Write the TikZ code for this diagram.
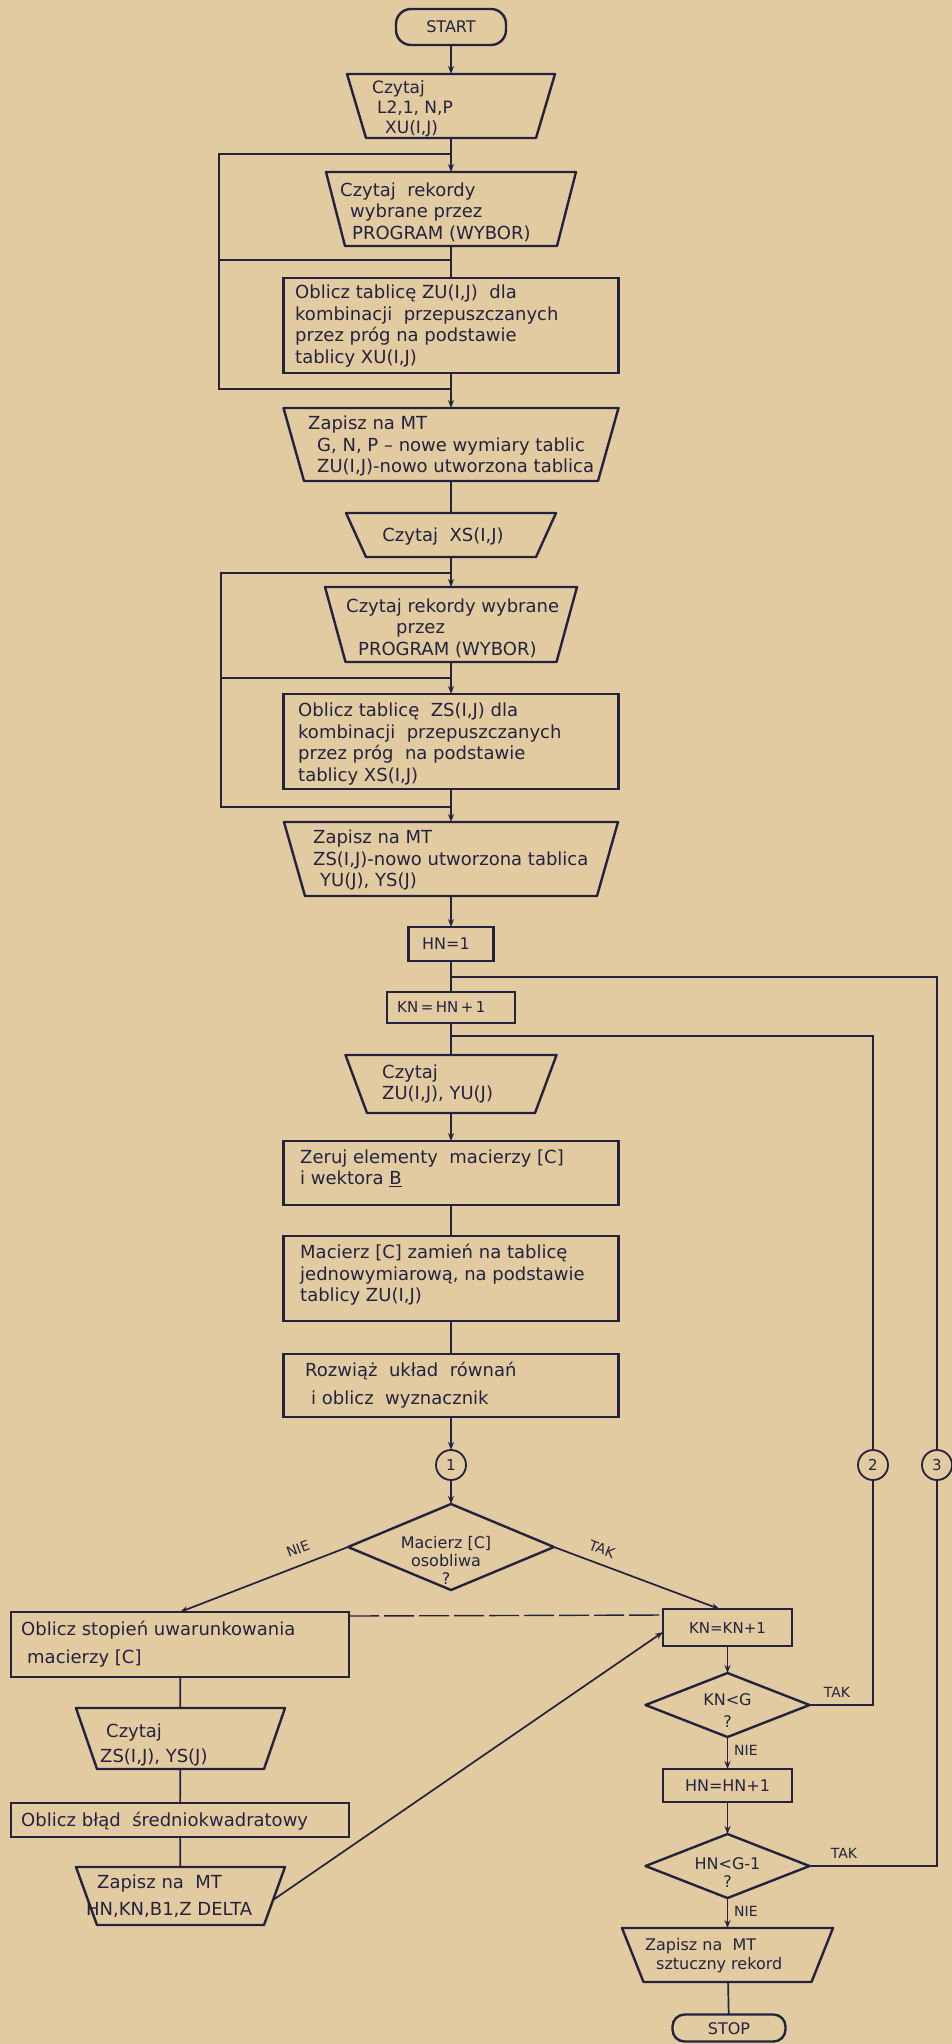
\documentclass[tikz,border=0pt]{standalone}
\usepackage{fontspec}
\setmainfont{DejaVu Sans}
\usetikzlibrary{arrows.meta,calc}
\definecolor{paper}{HTML}{E2CBA1}
\definecolor{ink}{HTML}{23233F}
\tikzset{
 anch/.style={rectangle,draw=none,inner sep=0pt,outer sep=0pt},
 shp/.style={draw=ink,line width=2.4pt,line join=round},
 rbox/.style={anch,draw=ink,line width=2.4pt},
 term/.style={anch,draw=ink,line width=2.4pt,rounded corners=15pt},
 conn/.style={draw=ink,line width=1.7pt},
 arr/.style={conn,-{Stealth[length=8pt,width=6pt]}},
 dsh/.style={draw=ink,line width=1.4pt,dash pattern=on 30pt off 5pt},
 txt/.style={inner sep=0pt,text=ink,align=left,font=\fontsize{18}{21.5}\selectfont},
 small/.style={inner sep=0pt,text=ink,align=center,font=\fontsize{16}{18}\selectfont},
 lbl/.style={inner sep=0pt,text=ink,font=\fontsize{14}{16}\selectfont},
 conc/.style={circle,draw=ink,line width=1.8pt,minimum size=30pt,inner sep=0pt,outer sep=0pt,text=ink,font=\fontsize{15}{15}\selectfont},
}
\newcommand{\trapz}[6]{%
  \node[anch,minimum width={2*(#5)},minimum height={(#4)-(#3)}] (#1) at (#2,{((#3)+(#4))/2}) {};
  \draw[shp] ({#2-#5},#3) -- ({#2+#5},#3) -- ({#2+#6},#4) -- ({#2-#6},#4) -- cycle;}
\newcommand{\diam}[5]{%
  \node[anch,minimum width={2*(#4)},minimum height={2*(#5)}] (#1) at (#2,#3) {};
  \draw[shp] (#1.north) -- (#1.east) -- (#1.south) -- (#1.west) -- cycle;}
\begin{document}
\begin{tikzpicture}[x=1pt,y=-1pt]
\fill[paper] (0,0) rectangle (952,2044);
\useasboundingbox (0,0) rectangle (952,2044);

% ---------- main column ----------
\node[term,minimum width=110,minimum height=36] (start) at (451,27) {};
\node[small] (startt) at (451,27) {START};

\trapz{t1}{451}{74}{138}{104}{85}
\node[txt,anchor=west,font=\fontsize{17}{20}\selectfont] (t1t) at (372,109) {Czytaj\\\hspace*{5pt}L2,1, N,P\\\hspace*{13pt}XU(I,J)};

\trapz{t2}{451}{172}{246}{125}{106}
\node[txt,anchor=west] (t2t) at (340,212) {Czytaj~ rekordy\\\hspace*{10pt}wybrane przez\\\hspace*{12pt}PROGRAM (WYBOR)};

\node[rbox,minimum width=335,minimum height=95] (b1) at (451,325.5) {};
\node[txt,anchor=west] (b1t) at (295,326) {Oblicz tablicę ZU(I,J)~ dla\\kombinacji~ przepuszczanych\\przez próg na podstawie\\tablicy XU(I,J)};

\trapz{t3}{451}{408}{481}{167.5}{147}
\node[txt,anchor=west] (t3t) at (308,446) {Zapisz na MT\\\hspace*{9pt}G, N, P -- nowe wymiary tablic\\\hspace*{9pt}ZU(I,J)-nowo utworzona tablica};

\trapz{t4}{451}{513}{557}{105}{85}
\node[txt] (t4t) at (443,537) {Czytaj~ XS(I,J)};

\trapz{t5}{451}{587}{662}{126}{105.5}
\node[txt,anchor=west] (t5t) at (346,628) {Czytaj rekordy wybrane\\\hspace*{50pt}przez\\\hspace*{12pt}PROGRAM (WYBOR)};

\node[rbox,minimum width=335,minimum height=95] (b2) at (451,741.5) {};
\node[txt,anchor=west] (b2t) at (298,744) {Oblicz tablicę~ ZS(I,J) dla\\kombinacji~ przepuszczanych\\przez próg~ na podstawie\\tablicy XS(I,J)};

\trapz{t6}{451}{822}{896}{167}{146}
\node[txt,anchor=west] (t6t) at (313,860) {Zapisz na MT\\ZS(I,J)-nowo utworzona tablica\\\hspace*{7pt}YU(J), YS(J)};

\node[rbox,minimum width=85,minimum height=34] (hn1) at (451,944) {};
\node[small,anchor=west] (hn1t) at (422,944) {HN=1};

\node[rbox,minimum width=128,minimum height=31] (kn1) at (451,1007.5) {};
\node[small,anchor=west,font=\fontsize{15}{18}\selectfont] (kn1t) at (397,1007.5) {KN\,=\,HN\,+\,1};

\trapz{t7}{451}{1055}{1113}{105.5}{84}
\node[txt,anchor=west] (t7t) at (382,1084) {Czytaj\\ZU(I,J), YU(J)};

\node[rbox,minimum width=335,minimum height=64] (b3) at (451,1173) {};
\node[txt,anchor=west] (b3t) at (300,1168) {Zeruj elementy~ macierzy [C]\\i wektora \underline{B}};

\node[rbox,minimum width=335,minimum height=85] (b4) at (451,1278.5) {};
\node[txt,anchor=west] (b4t) at (300,1275) {Macierz [C] zamień na tablicę\\jednowymiarową, na podstawie\\tablicy ZU(I,J)};

\node[rbox,minimum width=335,minimum height=63] (b5) at (451,1385.5) {};
\node[txt,anchor=west] (b5t) at (305,1385) {Rozwiąż~ układ~ równań\\[6pt]\hspace*{6pt}i oblicz~ wyznacznik};

\node[conc] (c1) at (451,1465) {1};
\diam{d1}{451}{1547}{103}{43}
\node[small] (d1t) at (446,1560) {Macierz [C]\\osobliwa\\?};

% ---------- left branch ----------
\node[rbox,minimum width=338,minimum height=65] (b6) at (180,1644.5) {};
\node[txt,anchor=west] (b6t) at (21,1644) {Oblicz stopień uwarunkowania\\[6pt]\hspace*{6pt}macierzy [C]};

\trapz{t9}{180.5}{1708}{1769}{104.5}{83.5}
\node[txt,anchor=west] (t9t) at (100,1745) {\hspace*{6pt}Czytaj\\[3.5pt]ZS(I,J), YS(J)};

\node[rbox,minimum width=338,minimum height=34] (b7) at (180,1820) {};
\node[txt,anchor=west] (b7t) at (21,1821) {Oblicz błąd~ średniokwadratowy};

\trapz{t10}{180.5}{1867}{1925}{104.5}{83.5}
\node[txt,anchor=west] (t10t) at (86,1896) {\hspace*{11pt}Zapisz na~ MT\\[5.5pt]HN,KN,B1,Z DELTA};
\coordinate (t10r) at (273,1900);

% ---------- right branch ----------
\node[rbox,minimum width=129,minimum height=37] (kn2) at (727.5,1627.5) {};
\node[small,font=\fontsize{15}{18}\selectfont] (kn2t) at (727.5,1628) {KN=KN+1};

\diam{d2}{727.5}{1705}{82}{32}
\node[small] (d2t) at (727.5,1711) {KN<G\\[4pt]?};

\node[rbox,minimum width=129,minimum height=33] (hn2) at (727.5,1785.5) {};
\node[small] (hn2t) at (727.5,1786) {HN=HN+1};

\diam{d3}{727.5}{1866}{82}{32}
\node[small] (d3t) at (727.5,1873) {HN<G-1\\?};

\trapz{t8}{727.5}{1928}{1982}{105.5}{84}
\node[txt,anchor=west,font=\fontsize{16}{19}\selectfont] (t8t) at (645,1956) {Zapisz na~ MT\\\hspace*{11pt}sztuczny rekord};

\node[term,minimum width=113,minimum height=27,rounded corners=12pt] (stop) at (729,2028) {};
\node[small] (stopt) at (729,2029) {STOP};

\node[conc] (c2) at (873,1465) {2};
\node[conc] (c3) at (937,1465) {3};

% ---------- junction coordinates ----------
\coordinate (J1) at (451,154);
\coordinate (J2) at (451,260);
\coordinate (J3) at (451,389);
\coordinate (L1) at (219,154);
\coordinate (L2) at (219,260);
\coordinate (L3) at (219,389);
\coordinate (J6) at (451,573);
\coordinate (J7) at (451,678);
\coordinate (J8) at (451,807);
\coordinate (M1) at (221,573);
\coordinate (M2) at (221,678);
\coordinate (M3) at (221,807);
\coordinate (J4) at (451,977);
\coordinate (J5) at (451,1036);

% ---------- connectors ----------
\draw[arr] (start) -- (t1);
\draw[arr] (t1) -- (t2);
\draw[conn] (t2) -- (b1);
\draw[arr] (b1) -- (t3);
\draw[conn] (t3) -- (t4);
\draw[arr] (t4) -- (t5);
\draw[arr] (t5) -- (b2);
\draw[arr] (b2) -- (t6);
\draw[arr] (t6) -- (hn1);
\draw[conn] (hn1) -- (kn1);
\draw[conn] (kn1) -- (t7);
\draw[arr] (t7) -- (b3);
\draw[conn] (b3) -- (b4);
\draw[conn] (b4) -- (b5);
\draw[arr] (b5) -- (c1);
\draw[arr] (c1) -- (d1);

\draw[conn] (J1) -- (L1) -- (L3) -- (J3);
\draw[conn] (L2) -- (J2);
\draw[conn] (J6) -- (M1) -- (M3) -- (J8);
\draw[conn] (M2) -- (J7);

\draw[arr] (d1.west) -- (b6.north);
\draw[arr] (d1.east) -- ([xshift=-8pt]kn2.north);
\node[lbl,rotate=21] (nie1) at (298,1549) {NIE};
\node[lbl,rotate=-21] (tak1) at (602,1549) {TAK};

\draw[dsh] ($(b6.north east)+(0,4)$) -- ($(kn2.north west)+(0,6)$);

\draw[conn] (b6) -- (t9);
\draw[conn] (t9) -- (b7);
\draw[conn] (b7) -- (t10);
\draw[arr] (t10r) -- ($(kn2.south west)+(0,-14)$);

\draw[arr] (kn2) -- (d2);
\draw[arr] (d2) -- (hn2);
\draw[arr] (hn2) -- (d3);
\draw[arr] (d3) -- (t8);
\draw[conn] (t8) -- (stop);

\draw[conn] (d2.east) -| (c2.south);
\draw[conn] (c2.north) |- (J5);
\draw[conn] (d3.east) -| (c3.south);
\draw[conn] (c3.north) |- (J4);

\node[lbl] (tak2) at (837,1692) {TAK};
\node[lbl,anchor=west] (nie2) at (734,1750) {NIE};
\node[lbl] (tak3) at (844,1853) {TAK};
\node[lbl,anchor=west] (nie3) at (734,1911) {NIE};
\end{tikzpicture}
\end{document}
